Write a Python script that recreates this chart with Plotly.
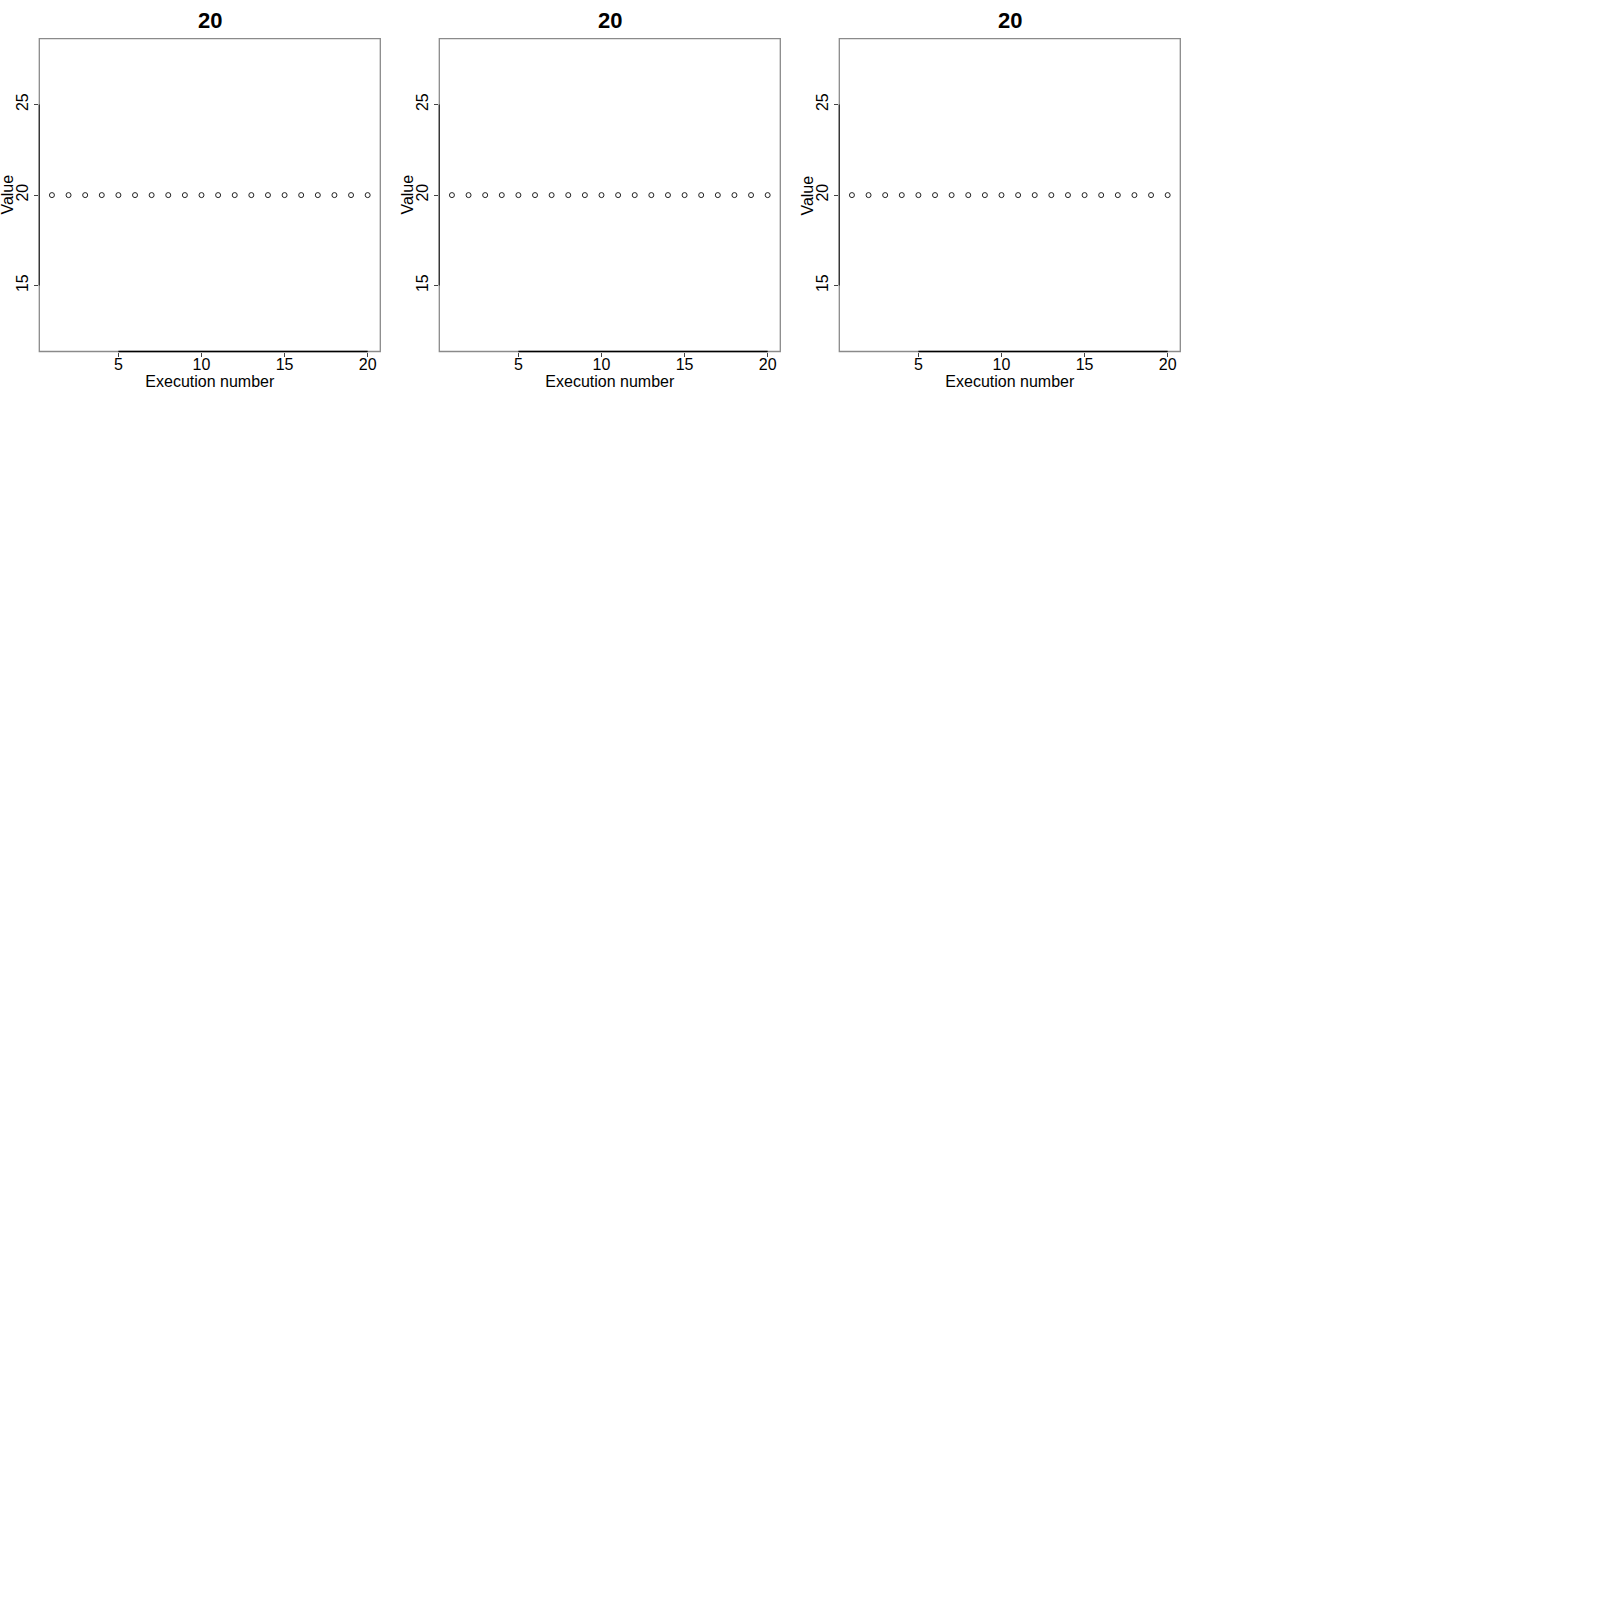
import plotly.graph_objects as go

panel_titles = ["20", "20", "20"]
execution = [1, 2, 3, 4, 5, 6, 7, 8, 9, 10, 11, 12, 13, 14, 15, 16, 17, 18, 19, 20]
values_1 = [20, 20, 20, 20, 20, 20, 20, 20, 20, 20, 20, 20, 20, 20, 20, 20, 20, 20, 20, 20]
values_2 = [20, 20, 20, 20, 20, 20, 20, 20, 20, 20, 20, 20, 20, 20, 20, 20, 20, 20, 20, 20]
values_3 = [20, 20, 20, 20, 20, 20, 20, 20, 20, 20, 20, 20, 20, 20, 20, 20, 20, 20, 20, 20]
x_ticks = [5, 10, 15, 20]
y_ticks = [15, 20, 25]
x_range = [0.24, 20.76]
y_range = [11.36, 28.64]
x_title = "Execution number"
y_title = "Value"

series = [values_1, values_2, values_3]
W = H = 1600
FONT = "Liberation Sans, Arial, Helvetica, sans-serif"

fig = go.Figure()
layout = dict(
    width=W, height=H,
    margin=dict(l=0, r=0, t=0, b=0),
    paper_bgcolor="white", plot_bgcolor="white",
    showlegend=False,
    font=dict(family=FONT, size=15, color="black"),
)
shapes = []
annotations = []

for i, (title, vals) in enumerate(zip(panel_titles, series)):
    n = "" if i == 0 else str(i + 1)
    left = 39.3 + 400 * i
    right = 380.3 + 400 * i
    top = 38.7
    bottom = 351.5
    xd = [left / W, right / W]
    yd = [1 - bottom / H, 1 - top / H]
    fig.add_trace(go.Scatter(
        x=execution, y=vals, mode="markers",
        marker=dict(symbol="circle-open", size=5, color="#222",
                    line=dict(width=1, color="#222")),
        xaxis="x" + n, yaxis="y" + n, hoverinfo="x+y",
    ))
    layout["xaxis" + n] = dict(
        domain=xd, range=x_range, anchor="y" + n,
        tickmode="array", tickvals=x_ticks, ticktext=[str(t) for t in x_ticks],
        ticks="outside", ticklen=4, tickwidth=1, tickcolor="#444",
        ticklabelstandoff=-6,
        showgrid=False, zeroline=False, showline=False,
        tickfont=dict(family=FONT, size=16, color="black"),
        title=dict(text=x_title, standoff=3, font=dict(family=FONT, size=16, color="black")),
        automargin=False, fixedrange=True,
    )
    layout["yaxis" + n] = dict(
        domain=yd, range=y_range, anchor="x" + n,
        tickmode="array", tickvals=y_ticks, ticktext=[str(t) for t in y_ticks],
        ticks="outside", ticklen=4, tickwidth=1, tickcolor="#444",
        tickangle=-90,
        showgrid=False, zeroline=False, showline=False,
        tickfont=dict(family=FONT, size=16, color="black"),
        automargin=False, fixedrange=True,
    )
    # gray box
    shapes.append(dict(type="rect", xref="x" + n + " domain", yref="y" + n + " domain",
                       x0=0, x1=1, y0=0, y1=1, line=dict(color="#8a8a8a", width=1.3)))
    # black axis lines between first and last ticks
    shapes.append(dict(type="line", xref="x" + n, yref="y" + n + " domain",
                       x0=x_ticks[0], x1=x_ticks[-1], y0=0, y1=0,
                       line=dict(color="black", width=1.3)))
    shapes.append(dict(type="line", xref="x" + n + " domain", yref="y" + n,
                       x0=0, x1=0, y0=y_ticks[0], y1=y_ticks[-1],
                       line=dict(color="#333", width=1.3)))
    # panel title
    annotations.append(dict(text="<b>" + title + "</b>", xref="x" + n + " domain", yref="paper",
                            x=0.5, y=1 - 20.3 / H, xanchor="center", yanchor="middle",
                            showarrow=False, font=dict(family=FONT, size=22, color="black")))
    # y axis title
    annotations.append(dict(text=y_title, xref="paper", yref="y" + n, textangle=-90,
                            x=(7.5 + 400 * i) / W, y=20, xanchor="center", yanchor="middle",
                            showarrow=False, font=dict(family=FONT, size=16, color="black")))

layout["shapes"] = shapes
layout["annotations"] = annotations
fig.update_layout(**layout)
fig.write_html("out.html")
